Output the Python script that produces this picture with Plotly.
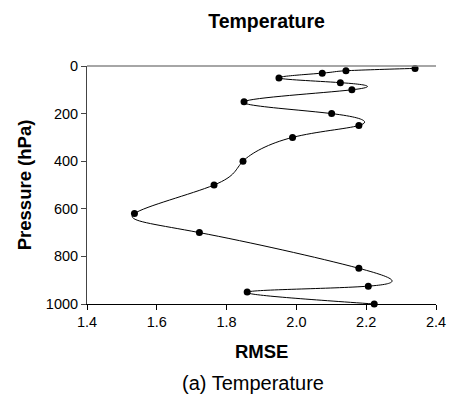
import numpy as np
import plotly.graph_objects as go

rmse = [2.340, 2.142, 2.074, 1.950, 2.126, 2.159, 1.850, 2.101, 2.179, 1.989,
        1.847, 1.764, 1.536, 1.722, 2.179, 2.206, 1.859, 2.223]
pressure = [10, 20, 30, 50, 70, 100, 150, 200, 250, 300,
            400, 500, 620, 700, 850, 925, 950, 1000]
x_ticks = [1.4, 1.6, 1.8, 2.0, 2.2, 2.4]
y_ticks = [0, 200, 400, 600, 800, 1000]

FONT = "Liberation Sans, Arial, sans-serif"


def natural_slopes(v):
    """First derivatives of a natural cubic spline through v at unit-spaced knots."""
    v = np.asarray(v, float)
    n = len(v)
    A = np.zeros((n, n))
    b = np.zeros(n)
    A[0, 0], A[0, 1] = 2.0, 1.0
    b[0] = 3 * (v[1] - v[0])
    A[-1, -2], A[-1, -1] = 1.0, 2.0
    b[-1] = 3 * (v[-1] - v[-2])
    for i in range(1, n - 1):
        A[i, i - 1], A[i, i], A[i, i + 1] = 1.0, 4.0, 1.0
        b[i] = 3 * (v[i + 1] - v[i - 1])
    return np.linalg.solve(A, b)


def parametric_spline_path(xs, ys):
    dx = natural_slopes(xs)
    dy = natural_slopes(ys)
    d = f"M {xs[0]},{ys[0]}"
    for i in range(len(xs) - 1):
        c1 = (xs[i] + dx[i] / 3, ys[i] + dy[i] / 3)
        c2 = (xs[i + 1] - dx[i + 1] / 3, ys[i + 1] - dy[i + 1] / 3)
        d += f" C {c1[0]},{c1[1]} {c2[0]},{c2[1]} {xs[i+1]},{ys[i+1]}"
    return d


fig = go.Figure()
fig.add_trace(go.Scatter(
    x=rmse, y=pressure, mode="markers",
    marker=dict(color="black", size=7),
    showlegend=False, cliponaxis=False,
))

fig.update_layout(
    width=458, height=394,
    margin=dict(l=87, r=15, t=66, b=90),
    paper_bgcolor="white", plot_bgcolor="white",
    font=dict(family=FONT, color="black", size=14),
    title=dict(text="<b>Temperature</b>", x=0.582, xanchor="center",
               y=1 - 21/394, yanchor="middle", font=dict(size=19.5, family=FONT)),
    xaxis=dict(range=[1.4, 2.4], tickvals=x_ticks, ticktext=[f"{v:.1f}" for v in x_ticks],
               showgrid=False, zeroline=False, showline=True, linecolor="black", linewidth=1,
               ticks="outside", ticklen=5, tickcolor="black",
               tickfont=dict(size=14.5, family=FONT)),
    yaxis=dict(range=[1000, 0], tickvals=y_ticks, showgrid=False, zeroline=False,
               showline=True, linecolor="#444", linewidth=1,
               ticks="outside", ticklen=5, tickcolor="#444",
               tickfont=dict(size=14.5, family=FONT)),
    shapes=[
        dict(type="path", xref="x", yref="y", path=parametric_spline_path(rmse, pressure),
             line=dict(color="black", width=1), layer="below"),
        dict(type="line", xref="paper", yref="paper", x0=0, x1=1, y0=1, y1=1,
             line=dict(color="#888", width=1.5)),
    ],
    annotations=[
        dict(text="<b>RMSE</b>", xref="paper", yref="paper", x=0.5, y=(394-351.5-90)/(394-66-90),
             xanchor="center", yanchor="middle", showarrow=False, font=dict(size=18.5, family=FONT)),
        dict(text="(a) Temperature", xref="paper", yref="paper", x=(256-87)/(443-87),
             y=(394-383-90)/(394-66-90), xanchor="center", yanchor="middle", showarrow=False,
             font=dict(size=20, family=FONT)),
        dict(text="<b>Pressure (hPa)</b>", xref="paper", yref="paper", x=(23-87)/(443-87),
             y=0.5, xanchor="center", yanchor="middle", textangle=-90, showarrow=False,
             font=dict(size=18.5, family=FONT)),
    ],
)

fig.write_html("out.html", config={"displayModeBar": False},
               post_script="document.body.style.margin='0px';")
